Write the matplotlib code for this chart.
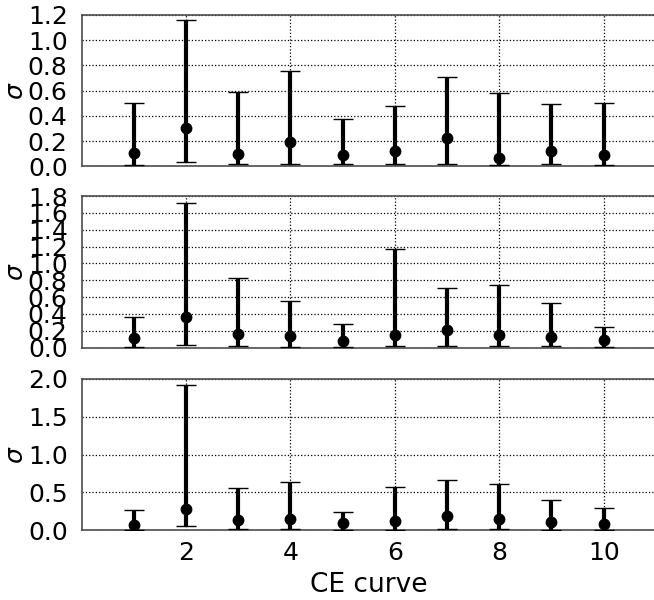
import matplotlib
matplotlib.use("Agg")
import matplotlib.pyplot as plt
import numpy as np

curves = [1, 2, 3, 4, 5, 6, 7, 8, 9, 10]

p1_med = [0.108, 0.304, 0.095, 0.195, 0.092, 0.124, 0.225, 0.066, 0.119, 0.090]
p1_low = [0.010, 0.032, 0.016, 0.016, 0.016, 0.016, 0.021, 0.010, 0.016, 0.010]
p1_up = [0.505, 1.163, 0.592, 0.754, 0.378, 0.479, 0.711, 0.584, 0.497, 0.505]

p2_med = [0.119, 0.360, 0.166, 0.139, 0.079, 0.154, 0.210, 0.147, 0.127, 0.088]
p2_low = [0.005, 0.032, 0.016, 0.005, 0.005, 0.016, 0.016, 0.016, 0.016, 0.005]
p2_up = [0.360, 1.713, 0.823, 0.558, 0.281, 1.171, 0.705, 0.744, 0.530, 0.246]

p3_med = [0.066, 0.281, 0.132, 0.150, 0.097, 0.119, 0.194, 0.145, 0.115, 0.084]
p3_low = [0.009, 0.053, 0.020, 0.020, 0.009, 0.009, 0.020, 0.020, 0.009, 0.009]
p3_up = [0.272, 1.924, 0.563, 0.634, 0.242, 0.568, 0.665, 0.612, 0.396, 0.290]

panels = [
    (p1_med, p1_low, p1_up, 1.2, np.arange(0, 1.21, 0.2), "{:.1f}"),
    (p2_med, p2_low, p2_up, 1.8, np.arange(0, 1.81, 0.2), "{:.1f}"),
    (p3_med, p3_low, p3_up, 2.0, np.arange(0, 2.01, 0.5), "{:.1f}"),
]

fig = plt.figure(figsize=(6.54, 6.0), dpi=100)
positions = [(0.1248, 0.7228, 0.878, 0.2522),
             (0.1248, 0.4205, 0.878, 0.2528),
             (0.1248, 0.1162, 0.878, 0.2522)]

x_ticks = [2, 4, 6, 8, 10]
for i, ((med, low, up, ymax, yt, fmt), pos) in enumerate(zip(panels, positions)):
    ax = fig.add_axes(pos)
    med = np.array(med); low = np.array(low); up = np.array(up)
    yerr = np.vstack([med - low, up - med])
    ax.errorbar(curves, med, yerr=yerr, fmt='o', color='black', ecolor='black',
                elinewidth=3.0, capsize=7, capthick=1.0, markersize=7.5, zorder=3)
    ax.set_xlim(0, 11)
    ax.set_ylim(0, ymax)
    ax.set_yticks(yt)
    ax.set_yticklabels([fmt.format(v) for v in yt])
    ax.set_xticks(x_ticks)
    ax.grid(True, linestyle=':', color='black', linewidth=0.9)
    ax.set_axisbelow(True)
    ax.tick_params(axis='y', length=0, labelsize=18, pad=10)
    ax.tick_params(axis='x', length=0, labelsize=18, pad=8)
    for s in ax.spines.values():
        s.set_color('0.3')
        s.set_linewidth(1.2)
    ax.set_ylabel(r"$\sigma$", fontsize=18, labelpad=0)
    if i < 2:
        ax.set_xticklabels([])
    else:
        ax.set_xlabel("CE curve", fontsize=19, labelpad=5)

fig.savefig("out.png", dpi=100)
